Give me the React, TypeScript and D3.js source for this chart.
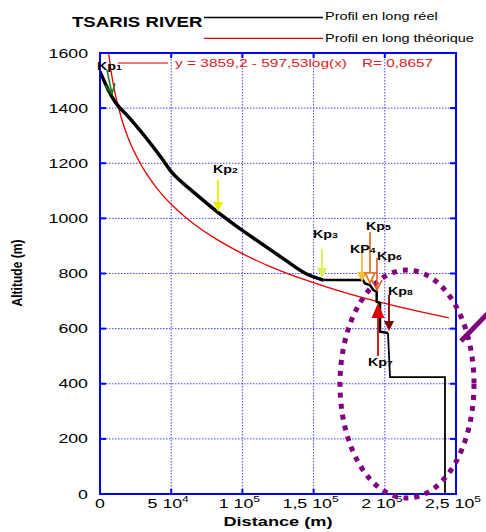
import * as d3 from "d3";

// Profil en long réel (distance m, altitude m)
const realX = [0, 5830, 10534, 19874, 31600, 43330, 50000, 56000, 65000, 81950, 96000, 112360, 128720, 145160, 156810, 184700, 186100, 189600, 191930, 194310, 194310, 196630, 196630, 202250, 203650, 242270, 242270];
const realAlt = [1532, 1466, 1423, 1369, 1297, 1218, 1170, 1138, 1098, 1025, 971, 912, 854, 798, 776, 776, 764, 758, 740, 734, 698, 692, 589, 584, 424, 424, 0];

// Profil en long théorique
const theoX = [6000, 8000, 10000, 15000, 20000, 30000, 40000, 50000, 60000, 70000, 80000, 100000, 120000, 140000, 160000, 180000, 200000, 220000, 245000];
const theoAlt = [1602, 1527, 1469, 1364, 1289, 1184, 1109, 1051, 1004, 964, 930, 872, 824, 784, 750, 719, 692, 667, 639];

const xTicks = [0, 50000, 100000, 150000, 200000, 250000];
const xTickBase = ["0", "5 10", "1 10", "1,5 10", "2 10", "2,5 10"];
const xTickExp = ["", "4", "5", "5", "5", "5"];
const yTicks = [0, 200, 400, 600, 800, 1000, 1200, 1400, 1600];

// Points kilométriques
const kpNames = ["Kp", "Kp", "Kp", "KP", "Kp", "Kp", "Kp", "Kp"];
const kpNums = ["1", "2", "3", "4", "5", "6", "7", "8"];
const kpLabelX = [-2100, 79350, 149580, 175560, 186800, 194520, 188200, 202250];
const kpLabelAlt = [1538, 1165, 929, 874, 958, 849, 464, 722];
const kpFromX = [4916, 82865, 155900, 183990, 189610, 194520, 195230, 202950];
const kpFromAlt = [1538, 1139, 889, 878, 951, 856, 501, 722];
const kpToX = [8427, 82865, 155900, 183990, 189610, 194520, 195230, 202950];
const kpToAlt = [1451, 1023, 784, 769, 766, 740, 693, 591];
const kpColors = ["#1f7a1f", "#e8f000", "#d8f050", "#f8c030", "#e07828", "#e05a28", "#dd0000", "#800000"];
const kpHeads = ["v", "filled", "filled", "filled", "open", "v", "filled", "filled"];

const W = 486;
const H = 532;
const left = 100, right = 456, top = 53, bottom = 494;
const SX = 1.35;
const FONT = "'Liberation Sans', Arial, sans-serif";

function Txt({ x, y, size, weight = "normal", fill = "#000", anchor = "start", sx = SX, children }: any) {
  return (
    <text
      transform={`translate(${x},${y}) scale(${sx},1)`}
      fontSize={size}
      fontWeight={weight}
      fill={fill}
      textAnchor={anchor}
      fontFamily={FONT}
    >
      {children}
    </text>
  );
}

function Arrow({ x1, y1, x2, y2, color, head, big }: any) {
  const dx = x2 - x1, dy = y2 - y1;
  const len = Math.hypot(dx, dy);
  const ux = dx / len, uy = dy / len;
  const hl = big ? 15 : 10;
  const hw = big ? 6.5 : 5;
  const bx = x2 - ux * hl, by = y2 - uy * hl;
  const p1 = [bx - uy * hw, by + ux * hw];
  const p2 = [bx + uy * hw, by - ux * hw];
  if (head === "v") {
    return (
      <g stroke={color} strokeWidth={1.6} fill="none">
        <line x1={x1} y1={y1} x2={x2} y2={y2} />
        <polyline points={`${p1[0]},${p1[1]} ${x2},${y2} ${p2[0]},${p2[1]}`} />
      </g>
    );
  }
  if (head === "open") {
    return (
      <g stroke={color} strokeWidth={1.8}>
        <line x1={x1} y1={y1} x2={bx} y2={by} />
        <polygon points={`${p1[0]},${p1[1]} ${x2},${y2} ${p2[0]},${p2[1]}`} fill="#fff" />
      </g>
    );
  }
  return (
    <g>
      <line x1={x1} y1={y1} x2={bx} y2={by} stroke={color} strokeWidth={1.8} />
      <polygon points={`${p1[0]},${p1[1]} ${x2},${y2} ${p2[0]},${p2[1]}`} fill={color} />
    </g>
  );
}

export default function App() {
  const x = d3.scaleLinear().domain([0, 250000]).range([left, right]);
  const y = d3.scaleLinear().domain([0, 1600]).range([bottom, top]);

  // partie continue (lissée), paliers, dernier tronçon
  const smoothEnd = 14;
  const thinFrom = 23;
  const pathOf = (from: number, to: number, curve: any) =>
    d3.line<number>()
      .x((_, i) => x(realX[i + from]))
      .y((d) => y(d))
      .curve(curve)(realAlt.slice(from, to + 1)) ?? "";
  const realSmooth = pathOf(0, smoothEnd, d3.curveMonotoneX);
  const realSteps = pathOf(smoothEnd, thinFrom, d3.curveLinear);
  const realThin = pathOf(thinFrom, realAlt.length - 1, d3.curveLinear);
  const theoPath = d3.line<number>().x((_, i) => x(theoX[i])).y((d) => y(d)).curve(d3.curveMonotoneX)(theoAlt) ?? "";

  // zone encerclée (en coordonnées des données)
  const ecx = x(215590), ecy = y(399);
  const erx = x(47050) - x(0), ery = y(0) - y(413.6);

  return (
    <svg width={W} height={H} style={{ position: "absolute", left: 0, top: 0, background: "#fff" }}>
      <defs>
        <clipPath id="plot">
          <rect x={left} y={top} width={right - left} height={bottom - top} />
        </clipPath>
      </defs>

      {/* grille */}
      <g stroke="#4444ff" strokeWidth={1} strokeDasharray="1.5,1.5">
        {xTicks.slice(1, -1).map((t) => (
          <line key={t} x1={x(t)} x2={x(t)} y1={top} y2={bottom} />
        ))}
        {yTicks.slice(1, -1).map((t) => (
          <line key={t} x1={left} x2={right} y1={y(t)} y2={y(t)} />
        ))}
      </g>

      {/* graduations */}
      <g stroke="#0000ff" strokeWidth={2}>
        {xTicks.map((t) => (
          <g key={t}>
            <line x1={x(t)} x2={x(t)} y1={bottom} y2={bottom - 5} />
            <line x1={x(t)} x2={x(t)} y1={top} y2={top + 5} />
          </g>
        ))}
        {yTicks.map((t) => (
          <g key={t}>
            <line x1={left} x2={left + 6} y1={y(t)} y2={y(t)} />
            <line x1={right} x2={right - 6} y1={y(t)} y2={y(t)} />
          </g>
        ))}
      </g>

      {/* courbes */}
      <g clipPath="url(#plot)">
        <path d={theoPath} fill="none" stroke="#e60000" strokeWidth={1.3} />
        <path d={realSmooth} fill="none" stroke="#000" strokeWidth={3.5} strokeLinejoin="round" />
        <path d={realSteps} fill="none" stroke="#000" strokeWidth={2.5} />
        <path d={realThin} fill="none" stroke="#000" strokeWidth={1.8} />
      </g>

      <rect x={left} y={top} width={right - left} height={bottom - top} fill="none" stroke="#0000ff" strokeWidth={2} />

      {/* étiquettes des axes */}
      {yTicks.map((t) => (
        <Txt key={t} x={88} y={y(t) + 4.5} size={12.5} anchor="end" sx={1.42}>
          {t}
        </Txt>
      ))}
      {xTicks.map((t, i) => (
        <Txt key={t} x={x(t) + (xTickExp[i] ? -3 : 0)} y={508} size={12.5} anchor="middle" sx={1.42}>
          {xTickBase[i]}
          {xTickExp[i] && (
            <tspan fontSize={8.5} dy={-6}>
              {xTickExp[i]}
            </tspan>
          )}
        </Txt>
      ))}
      <Txt x={278} y={526} size={13} weight="bold" anchor="middle" sx={1.4}>
        Distance (m)
      </Txt>
      <text
        transform="translate(22,273) rotate(-90) scale(1,1.3)"
        fontSize={11}
        fontWeight="bold"
        textAnchor="middle"
        fontFamily={FONT}
        textLength={67}
        lengthAdjust="spacingAndGlyphs"
      >
        Altitude (m)
      </text>

      {/* titre et légende */}
      <Txt x={72} y={27} size={14} weight="bold" sx={1.33}>
        TSARIS RIVER
      </Txt>
      <line x1={204} x2={323} y1={17.5} y2={17.5} stroke="#000" strokeWidth={1.3} />
      <Txt x={325} y={20} size={10.5} sx={1.38}>
        Profil en long réel
      </Txt>
      <line x1={204} x2={323} y1={38.3} y2={38.3} stroke="#e60000" strokeWidth={1.3} />
      <Txt x={325} y={42} size={10.5} sx={1.38}>
        Profil en long théorique
      </Txt>

      {/* équation */}
      <line x1={118} x2={168} y1={63} y2={63} stroke="#ee7777" strokeWidth={2} />
      <g fill="#e02020" fontFamily={FONT} fontSize={10.8}>
        <text x={175} y={67} textLength={172} lengthAdjust="spacingAndGlyphs">
          y = 3859,2 - 597,53log(x)
        </text>
        <text x={362} y={67} textLength={71} lengthAdjust="spacingAndGlyphs">
          R= 0,8657
        </text>
      </g>

      {/* zone encerclée */}
      <ellipse cx={ecx} cy={ecy} rx={erx} ry={ery} fill="none" stroke="#800080" strokeWidth={5} strokeDasharray="5,6" />
      <line x1={461} y1={341} x2={496} y2={305} stroke="#800080" strokeWidth={5} />

      {/* flèches Kp */}
      {kpNames.map((n, i) => (
        <Arrow
          key={"a" + i}
          x1={x(kpFromX[i])}
          y1={y(kpFromAlt[i])}
          x2={x(kpToX[i])}
          y2={y(kpToAlt[i])}
          color={kpColors[i]}
          head={kpHeads[i]}
          big={i === 6}
        />
      ))}
      {kpNames.map((n, i) => (
        <Txt key={"l" + i} x={x(kpLabelX[i])} y={y(kpLabelAlt[i])} size={11} weight="bold" sx={1.3}>
          {n}
          <tspan fontSize={8}>{kpNums[i]}</tspan>
        </Txt>
      ))}
    </svg>
  );
}
